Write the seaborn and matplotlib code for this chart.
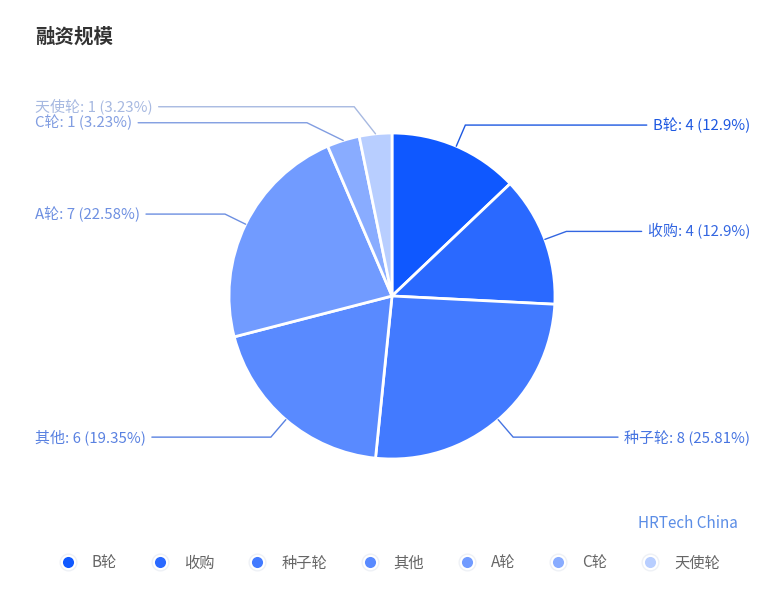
import numpy as np
import matplotlib
matplotlib.use("Agg")
import matplotlib.pyplot as plt
from matplotlib.colors import to_rgb
from matplotlib.lines import Line2D
import seaborn as sns

# data
categories = ["B轮", "收购", "种子轮", "其他", "A轮", "C轮", "天使轮"]
counts = [4, 4, 8, 6, 7, 1, 1]
colors = ["#0F58FF", "#2A69FF", "#427AFF", "#598AFF", "#719BFF", "#89ACFF", "#B8CEFF"]
title = "融资规模"
watermark = "HRTech China"

W, H = 783, 603
CX, CY, R = 392, H - 296, 163
R_KINK = R + 23
R_MOVED = R + 30
LABEL_GAP = 16


def fmt_pct(v):
    s = f"{v:.2f}".rstrip("0").rstrip(".")
    return s + "%"


def muted(c, k=0.18):
    # label text looks a little duller than the slice fill
    rgb = np.array(to_rgb(c))
    return tuple(rgb * (1 - k) + np.array(to_rgb("#5a5a5a")) * k)


def spread(items):
    # push labels apart on one side so they do not overlap
    items.sort(key=lambda d: -d["y"])
    changed = True
    while changed:
        changed = False
        for a, b in zip(items, items[1:]):
            if a["y"] - b["y"] < LABEL_GAP - 0.01:
                mid = (a["y"] + b["y"]) / 2
                a["y"] = mid + LABEL_GAP / 2
                b["y"] = mid - LABEL_GAP / 2
                a["moved"] = b["moved"] = True
                changed = True


def main():
    sns.set_theme(style="white")
    plt.rcParams["font.family"] = ["Noto Sans CJK SC", "DejaVu Sans"]

    fig = plt.figure(figsize=(W / 100, H / 100), dpi=100)
    ax = fig.add_axes([0, 0, 1, 1])

    wedges, _ = ax.pie(counts, colors=colors, startangle=90, counterclock=False,
                       center=(CX, CY), radius=R,
                       wedgeprops=dict(edgecolor="white", linewidth=2))
    ax.set_xlim(0, W)
    ax.set_ylim(0, H)
    ax.axis("off")

    total = sum(counts)
    info = []
    for w, name, n, c in zip(wedges, categories, counts, colors):
        ang = np.deg2rad((w.theta1 + w.theta2) / 2)
        info.append(dict(
            name=name, n=n, c=muted(c), ang=ang,
            ex=CX + R * np.cos(ang), ey=CY + R * np.sin(ang),
            x=CX + R_KINK * np.cos(ang), y=CY + R_KINK * np.sin(ang),
            right=np.cos(ang) >= 0, moved=False,
        ))

    for side in (True, False):
        spread([d for d in info if d["right"] == side])

    fig.canvas.draw()
    renderer = fig.canvas.get_renderer()
    for d in info:
        if d["moved"]:
            dy = d["y"] - CY
            dx = np.sqrt(max(R_MOVED ** 2 - dy ** 2, 0))
            d["x"] = CX + dx if d["right"] else CX - dx
        label = f"{d['name']}: {d['n']} ({fmt_pct(d['n'] / total * 100)})"
        if d["right"]:
            t = ax.text(750, d["y"], label, ha="right", va="center",
                        fontsize=10.8, color=d["c"])
            bb = t.get_window_extent(renderer)
            end_x = bb.x0 - 6
        else:
            t = ax.text(35, d["y"], label, ha="left", va="center",
                        fontsize=10.8, color=d["c"])
            bb = t.get_window_extent(renderer)
            end_x = bb.x1 + 6
        ax.plot([d["ex"], d["x"], end_x], [d["ey"], d["y"], d["y"]],
                color=d["c"], lw=1, solid_joinstyle="miter")

    fig.text(35 / W, 1 - 37 / H, title, fontsize=14, fontweight="bold",
             color="#333333", va="center", ha="left")
    ax.text(738, H - 523, watermark, ha="right", va="center",
            fontsize=11, color="#5B8DE6")

    handles = []
    for c in colors:
        outer = Line2D([], [], marker="o", ls="", markersize=12,
                       markerfacecolor="#EEF1F6", markeredgecolor="#EEF1F6")
        inner = Line2D([], [], marker="o", ls="", markersize=9.5,
                       markerfacecolor=c, markeredgecolor="white", markeredgewidth=1.5)
        handles.append((outer, inner))
    fig.legend(handles, categories, loc="center", bbox_to_anchor=(390 / W, 40 / H),
               ncol=7, frameon=False, fontsize=11, handlelength=1.0,
               handletextpad=1.07, columnspacing=2.3, labelcolor="#666666")

    fig.savefig("out.png", dpi=100)
    plt.close(fig)


if __name__ == "__main__":
    main()
